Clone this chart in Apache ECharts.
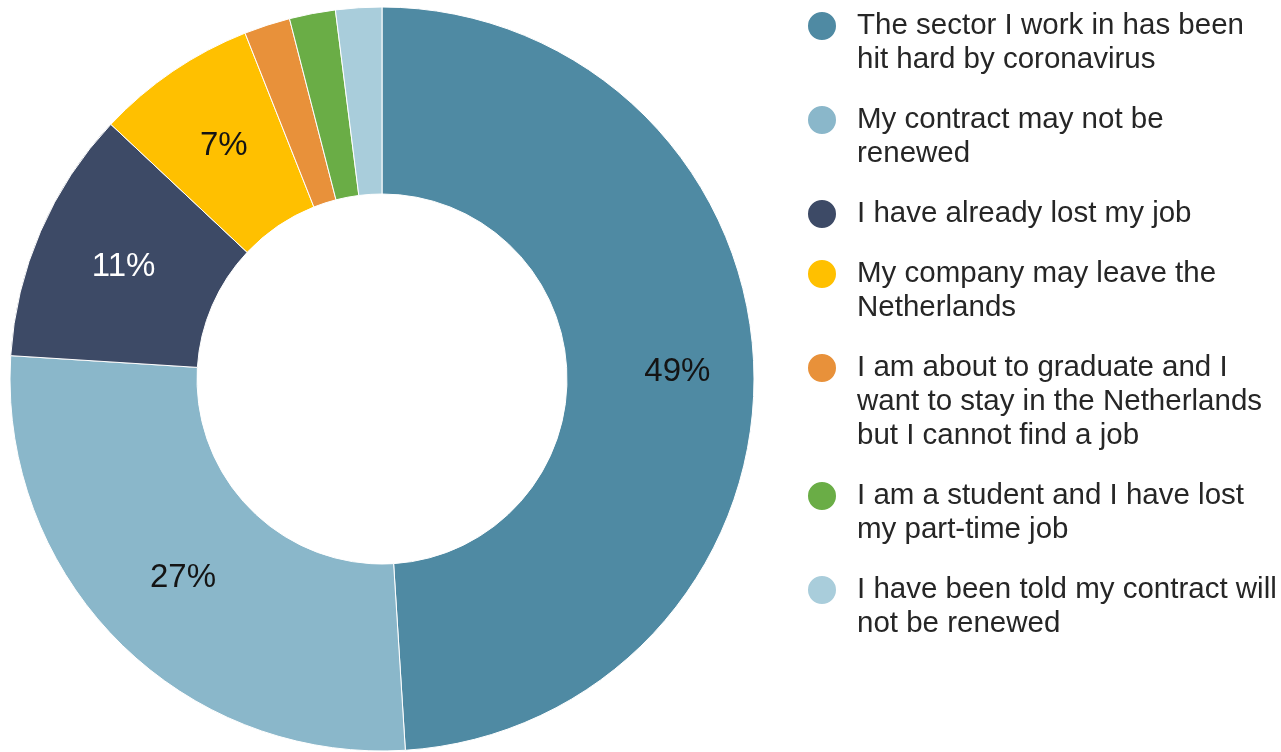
<!DOCTYPE html>
<html>
<head>
<meta charset="utf-8">
<script src="https://cdn.jsdelivr.net/npm/echarts@6/dist/echarts.min.js"></script>
<style>
  html, body { margin: 0; padding: 0; background: #ffffff; }
  #chart { width: 1281px; height: 752px; }
</style>
</head>
<body>
<div id="chart"></div>
<script>
// Reasons respondents give for job worries (share of answers, %)
const categories = [
  'The sector I work in has been hit hard by coronavirus',
  'My contract may not be renewed',
  'I have already lost my job',
  'My company may leave the Netherlands',
  'I am about to graduate and I want to stay in the Netherlands but I cannot find a job',
  'I am a student and I have lost my part-time job',
  'I have been told my contract will not be renewed'
];
const shares = [49, 27, 11, 7, 2, 2, 2];

// Wrapped legend text, one list of lines per category
const legendLines = [
  ['The sector I work in has been', 'hit hard by coronavirus'],
  ['My contract may not be', 'renewed'],
  ['I have already lost my job'],
  ['My company may leave the', 'Netherlands'],
  ['I am about to graduate and I', 'want to stay in the Netherlands', 'but I cannot find a job'],
  ['I am a student and I have lost', 'my part-time job'],
  ['I have been told my contract will', 'not be renewed']
];

const colors = ['#4f8aa3', '#8ab7ca', '#3d4a66', '#ffc000', '#e8913a', '#6aad46', '#a9cddb'];
const labelColors = ['#141414', '#141414', '#ffffff', '#141414', '#141414', '#141414', '#141414'];

const FONT = 'Liberation Sans, Arial, sans-serif';
const LINE_H = 34;
const ICON = 30;
const legendGap = 26;
const legendTop = 9;

// One legend block per category. Blank lines are put above the text so that,
// with the block centred on the marker, the marker sits beside the first line.
const legends = [];
let y = legendTop;
categories.forEach((name, i) => {
  const n = legendLines[i].length;
  const iconCenter = y + LINE_H / 2;
  const blank = new Array(n - 1).fill('');
  legends.push({
    data: [{ name: name, icon: 'circle' }],
    left: 806,
    top: iconCenter - (LINE_H * (2 * n - 1)) / 2,
    orient: 'vertical',
    padding: 0,
    itemWidth: ICON,
    itemHeight: ICON,
    itemGap: 0,
    selectedMode: false,
    formatter: () => blank.concat(legendLines[i]).join('\n'),
    textStyle: {
      fontFamily: FONT,
      fontSize: 29.5,
      lineHeight: LINE_H,
      color: '#262626',
      padding: [0, 0, 0, 15]
    }
  });
  y += n * LINE_H + legendGap;
});

const chart = echarts.init(document.getElementById('chart'), null, { renderer: 'canvas' });
chart.setOption({
  animation: false,
  backgroundColor: '#ffffff',
  color: colors,
  legend: legends,
  series: [{
    type: 'pie',
    center: [382, 379],
    radius: [185, 372],
    startAngle: 90,
    clockwise: true,
    avoidLabelOverlap: false,
    itemStyle: { borderColor: '#ffffff', borderWidth: 1 },
    emphasis: { disabled: true },
    label: {
      show: true,
      position: 'inside',
      fontFamily: FONT,
      fontSize: 33
    },
    labelLine: { show: false },
    data: categories.map((name, i) => ({
      name: name,
      value: shares[i],
      label: {
        show: shares[i] >= 5,
        color: labelColors[i],
        formatter: '{c}%',
        // the largest slice carries its label a little further out
        offset: i === 0 ? [14, 2] : [0, 0]
      }
    }))
  }]
});
</script>
</body>
</html>
